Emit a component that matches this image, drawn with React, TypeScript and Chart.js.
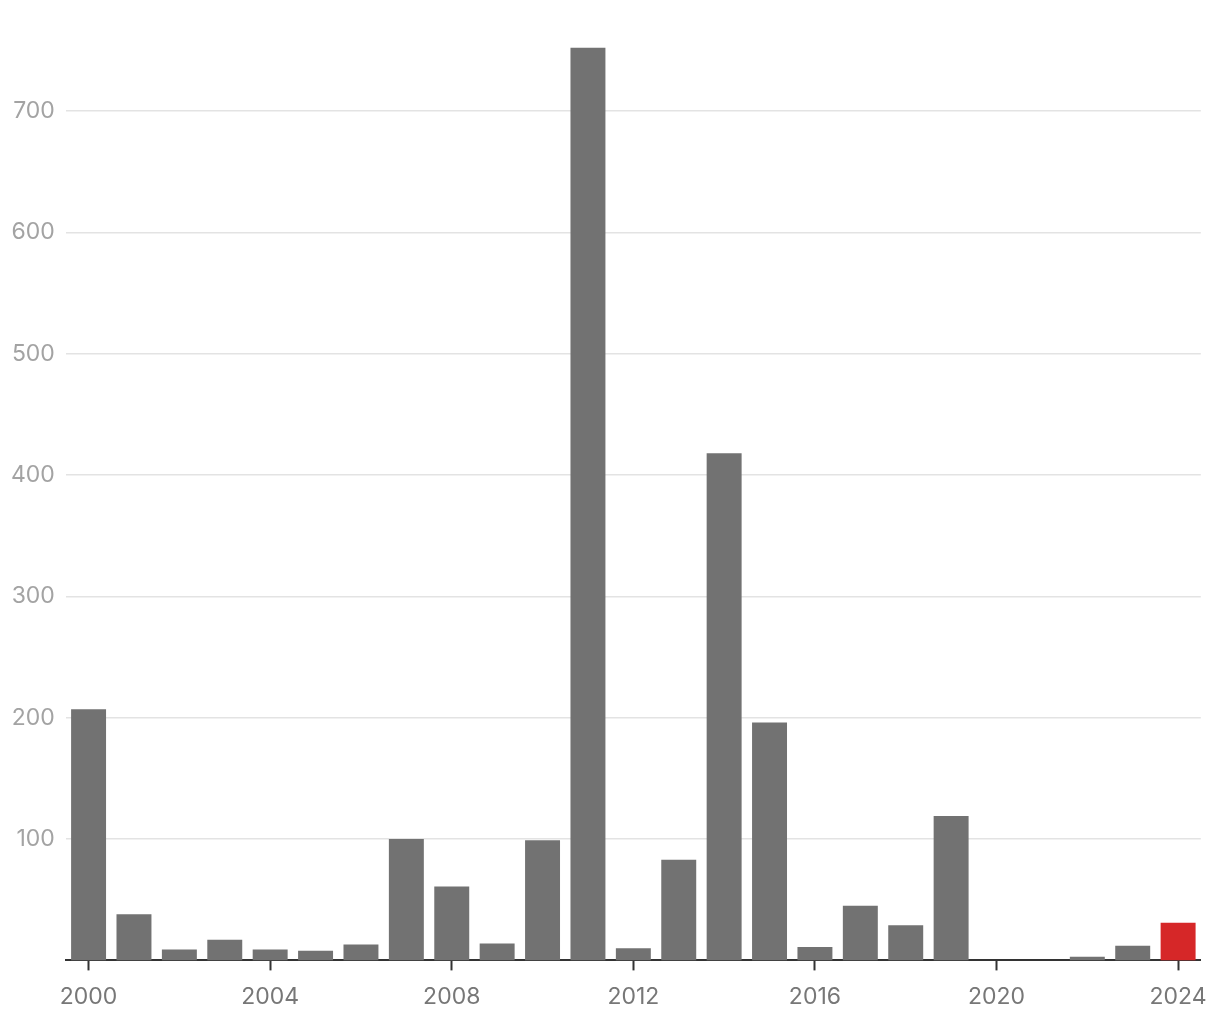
import React, { useEffect, useRef } from "react";
import { Chart, registerables } from "chart.js";

Chart.register(...registerables);

const years = ["2000","2001","2002","2003","2004","2005","2006","2007","2008","2009","2010","2011","2012","2013","2014","2015","2016","2017","2018","2019","2020","2021","2022","2023","2024"];
const values = [207, 38, 9, 17, 9, 8, 13, 100, 61, 14, 99, 752, 10, 83, 418, 196, 11, 45, 29, 119, 0, 0, 3, 12, 31];
const highlightYear = "2024";
const yTicks = [100, 200, 300, 400, 500, 600, 700];

export default function App() {
  const ref = useRef<HTMLCanvasElement>(null);
  useEffect(() => {
    if (!ref.current) return;
    const chart = new Chart(ref.current, {
      type: "bar",
      data: {
        labels: years,
        datasets: [
          {
            data: values,
            backgroundColor: years.map((y) => (y === highlightYear ? "#d62728" : "#727272")),
            categoryPercentage: 1,
            barPercentage: 0.77,
          },
        ],
      },
      options: {
        animation: false,
        responsive: false,
        layout: { padding: { top: 14, right: 18, bottom: 11, left: 0 } },
        plugins: { legend: { display: false }, tooltip: { enabled: false } },
        scales: {
          x: {
            offset: true,
            grid: {
              offset: false,
              drawOnChartArea: false,
              drawTicks: true,
              tickLength: 10,
              tickWidth: 2,
              tickColor: (ctx: any) => (ctx.index % 4 === 0 ? "#333333" : "rgba(0,0,0,0)"),
            },
            border: { display: true, color: "#333333", width: 2 },
            ticks: {
              autoSkip: false,
              maxRotation: 0,
              padding: 13,
              color: "#777777",
              font: { family: "Inter", size: 23 },
              callback: (_v: any, i: number) => (i % 4 === 0 ? years[i] : ""),
            },
          },
          y: {
            min: 0,
            max: 771,
            afterBuildTicks: (axis: any) => {
              axis.ticks = yTicks.map((v) => ({ value: v }));
            },
            grid: { color: "#e3e3e3", lineWidth: 1.5, drawTicks: false },
            border: { display: false },
            ticks: {
              padding: 11,
              color: "#a3a3a3",
              font: { family: "Inter", size: 23 },
            },
          },
        },
      },
    });
    return () => chart.destroy();
  }, []);
  return (
    <div style={{ position: "fixed", left: 0, top: 0, width: 1220, height: 1020, overflow: "hidden", background: "#fff" }}>
      <canvas ref={ref} width={1220} height={1035} />
    </div>
  );
}
